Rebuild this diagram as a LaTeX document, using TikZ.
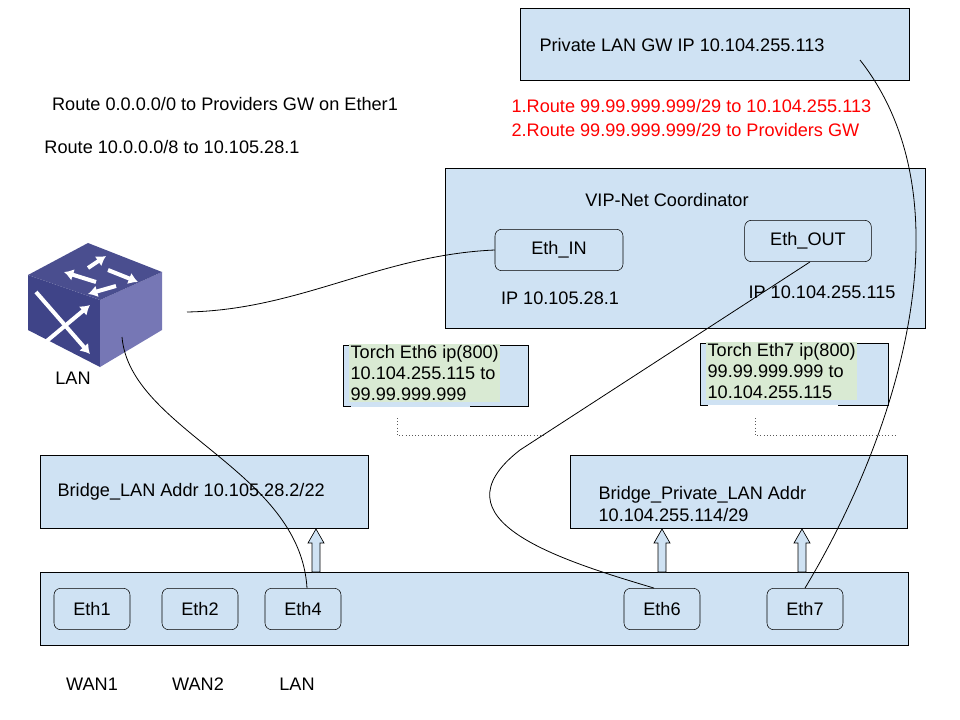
\documentclass[tikz,border=0pt]{standalone}
\usepackage{fontspec}
\setmainfont{Liberation Sans}
\usetikzlibrary{shapes,arrows,arrows.meta,positioning,calc}
\definecolor{boxblue}{RGB}{207,226,243}
\definecolor{torchgreen}{RGB}{217,234,211}
\definecolor{cubetop}{RGB}{74,78,143}
\definecolor{cubeleft}{RGB}{63,68,136}
\definecolor{cuberight}{RGB}{118,119,181}
\newcommand{\txt}{\fontsize{13.6}{15.8}\selectfont}

\tikzset{
  panel/.style={rectangle, draw=black, fill=boxblue, anchor=north west, inner sep=0pt},
  port/.style={rectangle, rounded corners=5pt, draw=black, fill=boxblue, minimum width=57pt, minimum height=31pt, font=\txt},
  lbl/.style={font=\txt, inner sep=1pt},
  wire/.style={draw=black, line width=0.6pt},
  hollow/.style={draw=black, fill=boxblue, line width=0.5pt},
}

\begin{document}
\begin{tikzpicture}[x=0.75pt, y=-0.75pt]
\useasboundingbox (0,0) rectangle (960,720);

% top gateway and route notes
\node[panel, minimum width=292pt, minimum height=54pt] (gw_box) at (520,8) {};
\node[lbl] (gw_text) at (682,45) {Private LAN GW IP 10.104.255.113};
\node[lbl] (route_def) at (225,104) {Route 0.0.0.0/0 to Providers GW on Ether1};
\node[lbl] (route_ten) at (172,147) {Route 10.0.0.0/8 to 10.105.28.1};
\node[lbl, text=red, anchor=west] (route_one) at (510,106) {1.Route 99.99.999.999/29 to 10.104.255.113};
\node[lbl, text=red, anchor=west] (route_two) at (510,130) {2.Route 99.99.999.999/29 to Providers GW};

% coordinator
\node[panel, minimum width=360pt, minimum height=120pt] (vip_box) at (445,168) {};
\node[lbl] (vip_title) at (667,200) {VIP-Net Coordinator};
\node[port, minimum width=96pt] (eth_in) at (559,250) {Eth\_IN};
\node[port, minimum width=95pt] (eth_out) at (808,241) {Eth\_OUT};
\node[lbl] (ip_in) at (560,298) {IP 10.105.28.1};
\node[lbl] (ip_out) at (822,292) {IP 10.104.255.115};

% switch
\fill[cubeleft] (28,275) -- (100,300) -- (100,367) -- (28,330) -- cycle;
\fill[cuberight] (100,300) -- (162,272) -- (162,330) -- (100,367) -- cycle;
\fill[cubetop] (28,275) -- (88,243) -- (162,272) -- (100,300) -- cycle;
\begin{scope}[white, line width=3pt, -{Latex[length=7pt,width=9pt]}]
  \draw (88,268) -- (106,256); \draw (96,282) -- (64,272);
  \draw (108,270) -- (138,282); \draw (116,286) -- (88,294);
  \draw (36,292) -- (90,354); \draw (36,350) -- (90,305);
\end{scope}
\node[coordinate] (sw_side) at (187,312) {};
\node[coordinate] (sw_bot) at (122,337) {};
\node[lbl] (sw_lan) at (73,378) {LAN};

% torch callouts
\node[panel, draw=none, minimum width=139pt, minimum height=46pt] (torch6) at (343,345) {};
\draw (351,345) -- (343,345) -- (343,406) -- (351,406) (343,345) -| (528,406) -- (470,406);
\node[align=left, anchor=north west, inner sep=1pt, fill=torchgreen, font=\txt] (torch6_text) at (349,344) {Torch Eth6 ip(800)\\10.104.255.115 to\\99.99.999.999};
\node[panel, draw=none, minimum width=141pt, minimum height=46pt] (torch7) at (700,343) {};
\draw (708,343) -- (700,343) -- (700,405) -- (708,405) (700,343) -| (888,405) -- (838,405);
\node[align=left, anchor=north west, inner sep=1pt, fill=torchgreen, font=\txt] (torch7_text) at (706,342) {Torch Eth7 ip(800)\\99.99.999.999 to\\10.104.255.115};
\draw[dotted, gray!70!black] (397,418) -- (397,435) -- (545,435);
\draw[dotted, gray!70!black] (755,418) -- (755,435) -- (895,435);

% bridges
\node[panel, minimum width=246pt, minimum height=55pt] (br_lan) at (40,455) {};
\node[lbl, anchor=west] (br_lan_text) at (56,492) {Bridge\_LAN Addr 10.105.28.2/22};
\node[panel, minimum width=253pt, minimum height=55pt] (br_priv) at (570,455) {};
\node[lbl, anchor=west, align=left] (br_priv_text) at (597,504) {Bridge\_Private\_LAN Addr\\10.104.255.114/29};

% router ports
\node[panel, minimum width=651pt, minimum height=55pt] (ports) at (40,572) {};
\node[port] (eth1) at (92,609) {Eth1};
\node[port] (eth2) at (200,609) {Eth2};
\node[port] (eth4) at (303,609) {Eth4};
\node[port] (eth6) at (662,609) {Eth6};
\node[port] (eth7) at (805,609) {Eth7};
\node[lbl] (wan1) at (92,684) {WAN1};
\node[lbl] (wan2) at (198,684) {WAN2};
\node[lbl] (lan) at (297,684) {LAN};

% hollow arrows
\foreach \ax in {316,662,802}
  \draw[hollow] (\ax-4,572) -- (\ax-4,543) -- (\ax-8,543) -- (\ax,529) -- (\ax+8,543) -- (\ax+4,543) -- (\ax+4,572) -- cycle;

% wires
\draw[wire] (sw_side) .. controls (300,310) and (380,255) .. (eth_in.west);
\draw[wire] (sw_bot) .. controls (130,430) and (300,470) .. ($(eth4.north)+(4,0)$);
\draw[wire] ($(eth_out.south)+(2,0)$) -- (520,450) .. controls (430,520) and (560,560) .. ($(eth6.north)+(-8,0)$);
\draw[wire] (eth7.north) .. controls (900,430) and (970,200) .. (860,60);
\end{tikzpicture}
\end{document}
